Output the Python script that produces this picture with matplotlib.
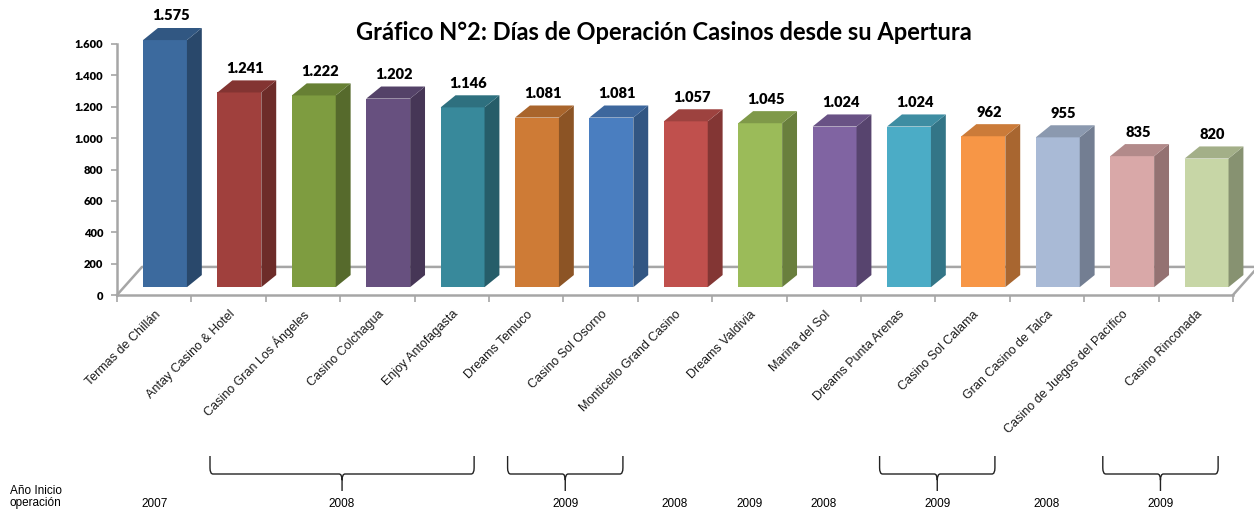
import matplotlib.pyplot as plt
import matplotlib.colors as mcolors
from matplotlib.patches import Polygon, PathPatch
from matplotlib.path import Path
from matplotlib.transforms import blended_transform_factory

# data
casinos = ['Termas de Chillán', 'Antay Casino & Hotel', 'Casino Gran Los Ángeles',
           'Casino Colchagua', 'Enjoy Antofagasta', 'Dreams Temuco', 'Casino Sol Osorno',
           'Monticello Grand Casino', 'Dreams Valdivia', 'Marina del Sol',
           'Dreams Punta Arenas', 'Casino Sol Calama', 'Gran Casino de Talca',
           'Casino de Juegos del Pacífico', 'Casino Rinconada']
dias = [1575, 1241, 1222, 1202, 1146, 1081, 1081, 1057, 1045, 1024, 1024, 962, 955, 835, 820]
colores = ['#3C6A9E', '#A0403D', '#7E9C40', '#67507F', '#38899B', '#CE7B36', '#4A7EC0',
           '#C0504D', '#9BBB59', '#8064A2', '#4BACC6', '#F79646', '#A9BAD6', '#D9A8A8', '#C7D6A6']
# (first category, last category, year)
grupos_anio = [(0, 0, '2007'), (1, 4, '2008'), (5, 6, '2009'), (7, 7, '2008'), (8, 8, '2009'),
               (9, 9, '2008'), (10, 11, '2009'), (12, 12, '2008'), (13, 14, '2009')]
yticks = list(range(0, 1601, 200))

W, H = 1254, 512
fig = plt.figure(figsize=(W / 100, H / 100), dpi=100)
ax = fig.add_axes([117 / W, 1 - 295 / H, (1233 - 117) / W, (295 - 44) / H])
ax.set_xlim(-0.5, len(casinos) - 0.5)
ax.set_ylim(0, 1600)

grey = '#A6A6A6'
base = 50        # bars stand in the middle of the floor
dx, dy = 0.2, 77  # bar depth
fx, fy = 0.336, 179  # floor depth
off, width = 0.145, 0.59


def darker(c, f):
    r, g, b = mcolors.to_rgb(c)
    return (r * f, g * f, b * f)


# floor (back edge + diagonals)
n = len(casinos)
ax.plot([-0.5, -0.5 + fx, n - 0.5 + fx], [0, fy, fy], color=grey, lw=1.8, zorder=1, clip_on=False)
ax.plot([n - 0.5, n - 0.5 + fx], [0, fy], color=grey, lw=1.8, zorder=1, clip_on=False)

for i, (v, c) in enumerate(zip(dias, colores)):
    xl = i + off - width / 2
    xr = i + off + width / 2
    ax.bar(i + off, v, width=width, bottom=base, color=c, edgecolor='none', zorder=3, clip_on=False)
    side = Polygon([(xr, base), (xr + dx, base + dy), (xr + dx, base + v + dy), (xr, base + v)],
                   closed=True, facecolor=darker(c, 0.68), edgecolor='none', zorder=3, clip_on=False)
    top = Polygon([(xl, base + v), (xr, base + v), (xr + dx, base + v + dy), (xl + dx, base + v + dy)],
                  closed=True, facecolor=darker(c, 0.82), edgecolor='none', zorder=3, clip_on=False)
    ax.add_patch(side)
    ax.add_patch(top)
    ax.annotate(f'{v:,}'.replace(',', '.'), (i + off + 0.08, base + v + dy),
                xytext=(0, 4), textcoords='offset points', ha='center', va='bottom',
                fontsize=10.5, fontweight='heavy', family='Lato', zorder=5,
                annotation_clip=False)

# axes styling
for s in ['top', 'right']:
    ax.spines[s].set_visible(False)
for s in ['left', 'bottom']:
    ax.spines[s].set_color(grey)
    ax.spines[s].set_linewidth(1.8)
ax.set_yticks(yticks)
ax.set_yticklabels([f'{t:,}'.replace(',', '.') for t in yticks], fontsize=8,
                   fontweight='heavy', family='Lato')
ax.tick_params(axis='y', length=4, color=grey, width=1.2, pad=6)
ax.set_xticks([i - 0.5 for i in range(n + 1)])
ax.set_xticklabels([])
ax.tick_params(axis='x', length=5, color=grey, width=1.2)

tr = blended_transform_factory(ax.transData, ax.transAxes)
for i, name in enumerate(casinos):
    ax.text(i + 0.06, -0.07, name, transform=tr, rotation=45, ha='right', va='center',
            rotation_mode='anchor', fontsize=9, family='Liberation Sans', color='#1A1A1A')

fig.text(664 / W, 1 - 33 / H, 'Gráfico N°2: Días de Operación Casinos desde su Apertura',
         ha='center', va='center', fontsize=17, fontweight='bold', family='Lato')

# year of opening, with braces
trf = blended_transform_factory(ax.transData, fig.transFigure)
fig.text(10 / W, 1 - 497 / H, 'Año Inicio\noperación', ha='left', va='center',
         fontsize=8.5, family='Liberation Sans', linespacing=1.1)
y_top, y_mid, y_tip = 1 - 456 / H, 1 - 474 / H, 1 - 491 / H
for a, b, year in grupos_anio:
    if a == b:
        ax.text(a, 1 - 504 / H, year, transform=trf, ha='center', va='center',
                fontsize=8.5, family='Liberation Sans')
        continue
    x0, x1 = a - 0.25, b + 0.3
    xc = (x0 + x1) / 2
    r = 0.04
    h = 0.012
    verts = [(x0, y_top), (x0, y_mid + h), (x0, y_mid), (x0 + r, y_mid),
             (xc - r, y_mid), (xc, y_mid), (xc, y_mid - h), (xc, y_tip),
             (xc, y_mid - h), (xc, y_mid), (xc + r, y_mid), (x1 - r, y_mid),
             (x1, y_mid), (x1, y_mid + h), (x1, y_top)]
    codes = [Path.MOVETO, Path.LINETO, Path.CURVE3, Path.CURVE3,
             Path.LINETO, Path.CURVE3, Path.CURVE3, Path.LINETO,
             Path.MOVETO, Path.CURVE3, Path.CURVE3, Path.LINETO,
             Path.CURVE3, Path.CURVE3, Path.LINETO]
    ax.add_patch(PathPatch(Path(verts, codes), transform=trf, fill=False,
                           edgecolor='#222222', lw=1.0, clip_on=False))
    ax.text(xc, 1 - 504 / H, year, transform=trf, ha='center', va='center',
            fontsize=8.5, family='Liberation Sans')

fig.savefig('out.png', dpi=100)
